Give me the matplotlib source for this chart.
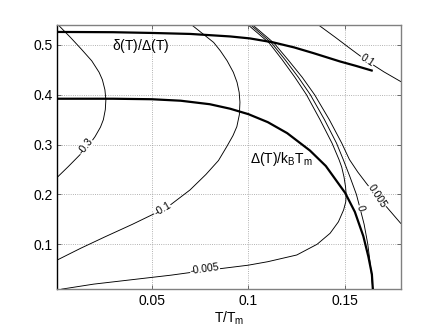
import numpy as np
import matplotlib
matplotlib.use("Agg")
import matplotlib.pyplot as plt

plt.rcParams['font.family'] = ['Liberation Sans', 'DejaVu Sans']
plt.rcParams['mathtext.fontset'] = 'custom'
plt.rcParams['mathtext.rm'] = 'Liberation Sans'
plt.rcParams['mathtext.default'] = 'regular'

# thick curves
gap_T = [0.0012, 0.03, 0.05, 0.065, 0.08, 0.0905, 0.1, 0.11, 0.12, 0.1318, 0.14, 0.15,
         0.155, 0.1594, 0.162, 0.1638, 0.1643]
gap_val = [0.392, 0.392, 0.391, 0.388, 0.381, 0.372, 0.361, 0.345, 0.323, 0.288, 0.257, 0.203,
           0.165, 0.116, 0.075, 0.04, 0.01]

ratio_T = [0.0012, 0.03, 0.05, 0.07, 0.0905, 0.1008, 0.1129, 0.1236, 0.1336, 0.1474, 0.1555, 0.1637]
ratio_val = [0.526, 0.5255, 0.524, 0.522, 0.517, 0.513, 0.505, 0.495, 0.4835, 0.4667, 0.458, 0.4486]

# contour lines (T, delta) for each level
c_m03_T = [0.0012, 0.0069, 0.013, 0.0172, 0.0207, 0.0235, 0.025, 0.026, 0.0263, 0.0258,
           0.0245, 0.0228, 0.019, 0.0135, 0.008, 0.0017]
c_m03_y = [0.2345, 0.256, 0.28, 0.297, 0.316, 0.335, 0.35, 0.37, 0.39, 0.41,
           0.43, 0.445, 0.468, 0.492, 0.515, 0.54]

c_m01_T = [0.0012, 0.0133, 0.0259, 0.04, 0.0517, 0.06, 0.0698, 0.078, 0.0845, 0.0888, 0.092,
           0.094, 0.0953, 0.0956, 0.0952, 0.0941, 0.0922, 0.089, 0.0855, 0.082, 0.0765, 0.0707]
c_m01_y = [0.0685, 0.092, 0.115, 0.14, 0.162, 0.18, 0.209, 0.24, 0.268, 0.296, 0.318,
           0.336, 0.36, 0.385, 0.405, 0.425, 0.445, 0.468, 0.488, 0.505, 0.522, 0.54]

c_m0005_T = [0.0035, 0.02, 0.04, 0.06, 0.075, 0.0999, 0.11, 0.125, 0.1355, 0.1422, 0.1465,
             0.1492, 0.1503, 0.1505, 0.1502, 0.1494, 0.1482, 0.1468, 0.1432, 0.137, 0.130,
             0.124, 0.1175, 0.1108, 0.0999]
c_m0005_y = [0.01, 0.02, 0.029, 0.038, 0.046, 0.058, 0.065, 0.0785, 0.1, 0.122, 0.145,
             0.169, 0.185, 0.2, 0.215, 0.235, 0.255, 0.27, 0.303, 0.35, 0.40,
             0.435, 0.47, 0.5036, 0.54]

c_0_T = [0.1012, 0.112, 0.119, 0.1258, 0.132, 0.1393, 0.1455, 0.149, 0.1525, 0.1558, 0.1577,
         0.1598, 0.1617, 0.1633, 0.1643]
c_0_y = [0.54, 0.5036, 0.47, 0.435, 0.40, 0.35, 0.303, 0.27, 0.235, 0.2, 0.172,
         0.14, 0.10, 0.05, 0.01]

c_p0005_T = [0.1022, 0.1132, 0.1205, 0.1278, 0.1342, 0.1418, 0.1482, 0.1522, 0.1565, 0.161,
             0.1663, 0.1715, 0.1787]
c_p0005_y = [0.54, 0.5036, 0.47, 0.435, 0.40, 0.35, 0.303, 0.27, 0.245, 0.222,
             0.1956, 0.1745, 0.142]

c_p01_T = [0.1362, 0.145, 0.1525, 0.1612, 0.17, 0.1787]
c_p01_y = [0.54, 0.515, 0.493, 0.468, 0.446, 0.4265]

# contour labels: text, T, delta, rotation
lab_text = ['-0.3', '-0.1', '-0.005', '0', '0.005', '0.1']
lab_T = [0.0158, 0.0555, 0.0775, 0.1577, 0.1663, 0.1612]
lab_y = [0.296, 0.170, 0.050, 0.172, 0.1956, 0.468]
lab_rot = [52, 30, 8, -76, -57, -33]

xticks = [0.05, 0.1, 0.15]
yticks = [0.1, 0.2, 0.3, 0.4, 0.5]

fig = plt.figure(figsize=(4.43, 3.33), dpi=100)
ax = fig.add_axes([0.1294, 0.1312, 0.7751, 0.7938])

thin = 0.65
for xs, ys in [(c_m03_T, c_m03_y), (c_m01_T, c_m01_y), (c_m0005_T, c_m0005_y),
               (c_0_T, c_0_y), (c_p0005_T, c_p0005_y), (c_p01_T, c_p01_y)]:
    ax.plot(xs, ys, color='black', lw=thin)

for t, x, y, r in zip(lab_text, lab_T, lab_y, lab_rot):
    ax.text(x, y, t, rotation=r, ha='center', va='center', fontsize=7.5,
            rotation_mode='anchor',
            bbox=dict(facecolor='white', edgecolor='none', pad=0.2), zorder=3)

ax.plot(gap_T, gap_val, color='black', lw=1.6, zorder=4)
ax.plot(ratio_T, ratio_val, color='black', lw=1.6, zorder=4)

ax.text(0.0295, 0.497, r'$\delta$(T)/$\Delta$(T)', fontsize=10, va='center')
ax.text(0.1008, 0.272, r'$\Delta$(T)/k$_B$T$_m$', fontsize=10, va='center')

ax.set_xlim(0.0012, 0.1787)
ax.set_ylim(0.0096, 0.54)
ax.set_xticks(xticks)
ax.set_xticklabels(['0.05', '0.1', '0.15'])
ax.set_yticks(yticks)
ax.set_yticklabels(['0.1', '0.2', '0.3', '0.4', '0.5'])
ax.tick_params(direction='in', length=3, width=0.6, top=True, right=True,
               labelsize=10, color='#555555')
ax.grid(True, linestyle=':', color='#999999', lw=0.6)
ax.set_axisbelow(True)
for s in ['top', 'right', 'bottom']:
    ax.spines[s].set_color('#808080')
    ax.spines[s].set_linewidth(1.0)
ax.spines['left'].set_color('black')
ax.spines['left'].set_linewidth(1.0)

ax.set_xlabel(r'T/T$_m$', fontsize=10, labelpad=1)

fig.savefig('out.png', dpi=100)
